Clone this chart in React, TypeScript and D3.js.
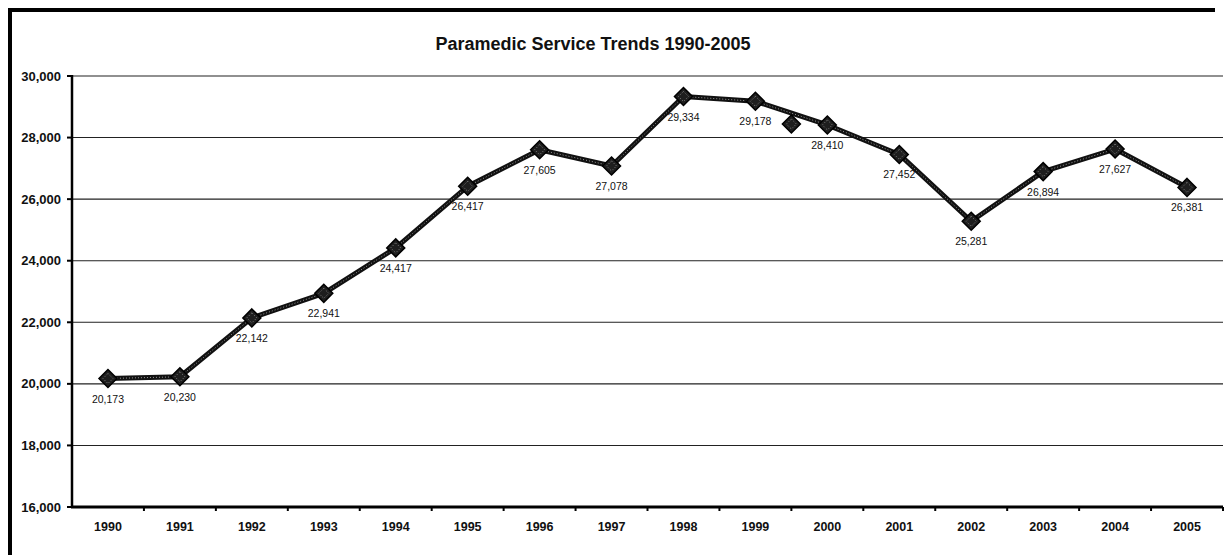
import React from "react";
import * as d3 from "d3";

const years = ["1990","1991","1992","1993","1994","1995","1996","1997","1998","1999","2000","2001","2002","2003","2004","2005"];
const calls = [20173,20230,22142,22941,24417,26417,27605,27078,29334,29178,28410,27452,25281,26894,27627,26381];
const yTicks = [16000,18000,20000,22000,24000,26000,28000,30000];
// stray marker visible in the scanned reference, between 1999 and 2000
const strayMarker = { between: ["1999", "2000"], value: 28440 };
const title = "Paramedic Service Trends 1990-2005";

const W = 1231, H = 555;
const left = 72, right = 1223, top = 76, bottom = 507;

export default function App() {
  const x = d3.scaleBand<string>().domain(years).range([left, right]);
  const y = d3.scaleLinear().domain([16000, 30000]).range([bottom, top]);
  const cx = (yr: string) => (x(yr) as number) + x.bandwidth() / 2;
  const fmt = d3.format(",");
  const pts: [number, number][] = years.map((yr, i) => [cx(yr), y(calls[i])]);
  const line = d3.line()(pts) as string;
  const diamond = (px: number, py: number, r: number) =>
    `M${px},${py - r}L${px + r},${py}L${px},${py + r}L${px - r},${py}Z`;
  const strayX = (cx(strayMarker.between[0]) + cx(strayMarker.between[1])) / 2;
  const font = "Arial, 'Liberation Sans', Helvetica, sans-serif";

  const Marker = ({ px, py }: { px: number; py: number }) => (
    <g>
      <path d={diamond(px, py, 9)} fill="#1e1e1e" stroke="#000" strokeWidth={1.5} />
      <path d={diamond(px, py, 5)} fill="none" stroke="#888" strokeWidth={1} strokeDasharray="1,2" />
    </g>
  );

  return (
    <svg width={W} height={H} style={{ position: "absolute", left: 0, top: 0, background: "#fff" }} fontFamily={font}>
      {/* outer frame (left and top edges visible) */}
      <path d={`M10,${H}L10,10L1215,10`} fill="none" stroke="#000" strokeWidth={4} />
      <text x={593} y={50} textAnchor="middle" fontSize={18} fontWeight="bold" fill="#111">{title}</text>

      {/* gridlines */}
      {yTicks.filter(t => t > 16000).map(t => (
        <line key={t} x1={left} x2={right} y1={y(t)} y2={y(t)} stroke="#222" strokeWidth={1.1} />
      ))}
      {/* y ticks & labels */}
      {yTicks.map(t => (
        <g key={"yt" + t}>
          <line x1={left - 5} x2={left} y1={y(t)} y2={y(t)} stroke="#000" strokeWidth={2} />
          <text x={61} y={y(t) + 4.5} textAnchor="end" fontSize={13} fontWeight="bold" fill="#111">{fmt(t)}</text>
        </g>
      ))}
      {/* axes */}
      <line x1={left} x2={left} y1={top - 1} y2={bottom + 1} stroke="#000" strokeWidth={2.5} />
      <line x1={left - 1} x2={right} y1={bottom} y2={bottom} stroke="#000" strokeWidth={3} />
      {years.map(yr => (
        <line key={"xt" + yr} x1={(x(yr) as number) + x.bandwidth()} x2={(x(yr) as number) + x.bandwidth()} y1={bottom} y2={bottom + 4} stroke="#000" strokeWidth={2} />
      ))}
      {years.map(yr => (
        <text key={"xl" + yr} x={cx(yr)} y={531} textAnchor="middle" fontSize={12.5} fontWeight="bold" fill="#111">{yr}</text>
      ))}

      {/* series line */}
      <path d={line} fill="none" stroke="#111" strokeWidth={5} strokeLinejoin="round" />
      <path d={line} fill="none" stroke="#999" strokeWidth={1} strokeDasharray="1,2" />

      {pts.map(([px, py], i) => <Marker key={"m" + i} px={px} py={py} />)}
      <Marker px={strayX} py={y(strayMarker.value)} />

      {pts.map(([px, py], i) => (
        <text key={"dl" + i} x={px} y={py + 24} textAnchor="middle" fontSize={10.5} fill="#111">{fmt(calls[i])}</text>
      ))}
    </svg>
  );
}
